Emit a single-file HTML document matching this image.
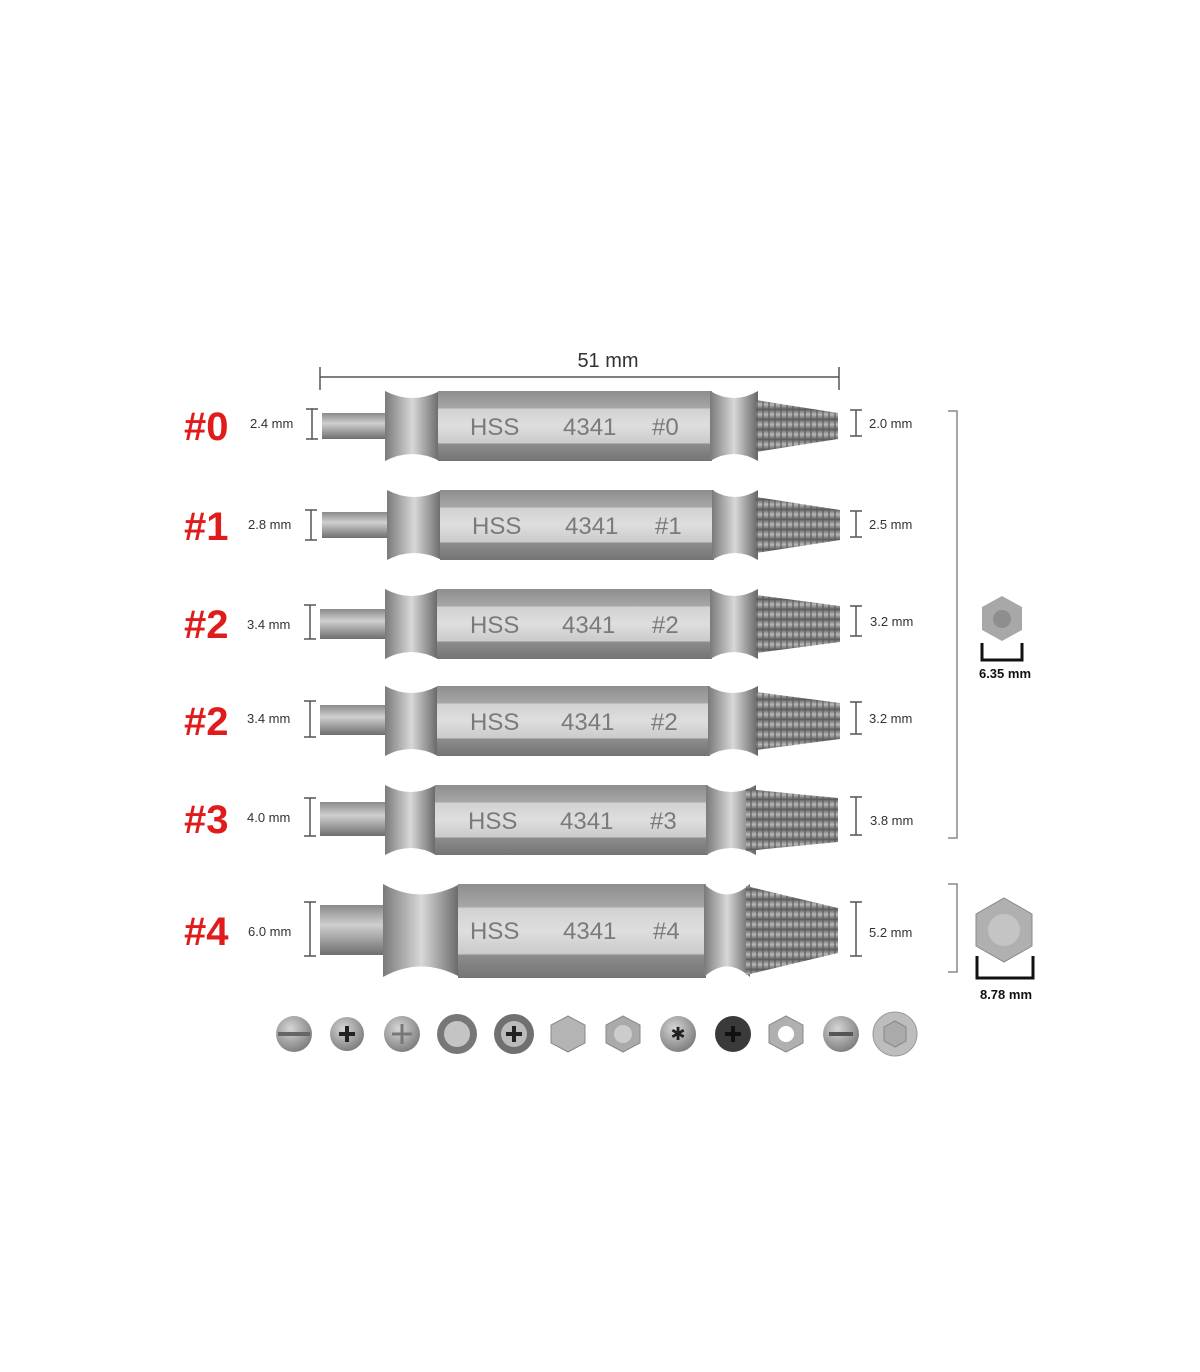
<!DOCTYPE html>
<html><head><meta charset="utf-8"><style>
html,body{margin:0;padding:0;background:#fff;}
svg{display:block;font-family:"Liberation Sans",sans-serif;}
</style></head><body>
<svg width="1200" height="1372" viewBox="0 0 1200 1372" xmlns="http://www.w3.org/2000/svg">
<defs>
<linearGradient id="body" x1="0" y1="0" x2="0" y2="1">
<stop offset="0" stop-color="#8e8e8e"/><stop offset="0.24" stop-color="#a6a6a6"/>
<stop offset="0.26" stop-color="#d2d2d2"/><stop offset="0.5" stop-color="#dedede"/>
<stop offset="0.74" stop-color="#cbcbcb"/><stop offset="0.76" stop-color="#8c8c8c"/>
<stop offset="1" stop-color="#747474"/></linearGradient>
<linearGradient id="col" x1="0" y1="0" x2="1" y2="0">
<stop offset="0" stop-color="#7a7a7a"/><stop offset="0.5" stop-color="#d8d8d8"/><stop offset="1" stop-color="#666"/></linearGradient>
<linearGradient id="tip" x1="0" y1="0" x2="0" y2="1">
<stop offset="0" stop-color="#8a8a8a"/><stop offset="0.4" stop-color="#cfcfcf"/><stop offset="1" stop-color="#6e6e6e"/></linearGradient>
<linearGradient id="tap" x1="0" y1="0" x2="0" y2="1">
<stop offset="0" stop-color="#6a6a6a"/><stop offset="0.45" stop-color="#b8b8b8"/><stop offset="1" stop-color="#555"/></linearGradient>
<pattern id="thr" width="6" height="10" patternUnits="userSpaceOnUse"><rect width="6" height="10" fill="url(#tap)"/><rect x="0" width="2" height="10" fill="#5c5c5c" opacity="0.6"/></pattern>
<radialGradient id="scr" cx="0.4" cy="0.35" r="0.7"><stop offset="0" stop-color="#d6d6d6"/><stop offset="1" stop-color="#7a7a7a"/></radialGradient>
</defs>

<!-- 51 mm dimension -->
<line x1="320" y1="377" x2="839" y2="377" stroke="#555" stroke-width="1.5"/>
<line x1="320" y1="367" x2="320" y2="390" stroke="#555" stroke-width="1.5"/>
<line x1="839" y1="367" x2="839" y2="390" stroke="#555" stroke-width="1.5"/>
<text x="608" y="367" font-size="20" text-anchor="middle" fill="#333">51 mm</text>

<!-- Bits -->
<g id="bits">
<!-- generic per row -->
</g>
<g font-size="24" fill="#7a7a7a">
<!-- row 0 -->
<rect x="322" y="413" width="66" height="26" fill="url(#tip)"/>
<path d="M385,391 Q412,405 440,391 L440,461 Q412,447 385,461 Z" fill="url(#col)"/>
<rect x="438" y="391" width="274" height="70" fill="url(#body)"/>
<path d="M710,391 Q734,405 758,391 L758,461 Q734,447 710,461 Z" fill="url(#col)"/>
<polygon points="756,400 838,413 838,439 756,452" fill="url(#thr)"/>
<text x="470" y="435">HSS</text><text x="563" y="435">4341</text><text x="652" y="435">#0</text>
<!-- row 1 -->
<rect x="322" y="512" width="66" height="26" fill="url(#tip)"/>
<path d="M387,490 Q414,504 442,490 L442,560 Q414,546 387,560 Z" fill="url(#col)"/>
<rect x="440" y="490" width="274" height="70" fill="url(#body)"/>
<path d="M712,490 Q735,504 758,490 L758,560 Q735,546 712,560 Z" fill="url(#col)"/>
<polygon points="756,497 840,510 840,540 756,553" fill="url(#thr)"/>
<text x="472" y="534">HSS</text><text x="565" y="534">4341</text><text x="655" y="534">#1</text>
<!-- row 2 -->
<rect x="320" y="609" width="66" height="30" fill="url(#tip)"/>
<path d="M385,589 Q411,603 438,589 L438,659 Q411,645 385,659 Z" fill="url(#col)"/>
<rect x="437" y="589" width="275" height="70" fill="url(#body)"/>
<path d="M710,589 Q734,603 758,589 L758,659 Q734,645 710,659 Z" fill="url(#col)"/>
<polygon points="756,595 840,606 840,642 756,653" fill="url(#thr)"/>
<text x="470" y="633">HSS</text><text x="562" y="633">4341</text><text x="652" y="633">#2</text>
<!-- row 3 -->
<rect x="320" y="705" width="66" height="30" fill="url(#tip)"/>
<path d="M385,686 Q411,700 438,686 L438,756 Q411,742 385,756 Z" fill="url(#col)"/>
<rect x="437" y="686" width="273" height="70" fill="url(#body)"/>
<path d="M708,686 Q733,700 758,686 L758,756 Q733,742 708,756 Z" fill="url(#col)"/>
<polygon points="756,692 840,703 840,739 756,750" fill="url(#thr)"/>
<text x="470" y="730">HSS</text><text x="561" y="730">4341</text><text x="651" y="730">#2</text>
<!-- row 4 (#3) -->
<rect x="320" y="802" width="66" height="34" fill="url(#tip)"/>
<path d="M385,785 Q411,799 436,785 L436,855 Q411,841 385,855 Z" fill="url(#col)"/>
<rect x="435" y="785" width="273" height="70" fill="url(#body)"/>
<path d="M706,785 Q731,799 756,785 L756,855 Q731,841 706,855 Z" fill="url(#col)"/>
<polygon points="746,789 838,798 838,842 746,851" fill="url(#thr)"/>
<text x="468" y="829">HSS</text><text x="560" y="829">4341</text><text x="650" y="829">#3</text>
<!-- row 5 (#4) -->
<rect x="320" y="905" width="66" height="50" fill="url(#tip)"/>
<path d="M383,884 Q421,905 460,884 L460,977 Q421,956 383,977 Z" fill="url(#col)"/>
<rect x="458" y="884" width="248" height="94" fill="url(#body)"/>
<path d="M704,884 Q727,905 750,884 L750,977 Q727,956 704,977 Z" fill="url(#col)"/>
<polygon points="746,886 838,908 838,953 746,975" fill="url(#thr)"/>
<text x="470" y="939">HSS</text><text x="563" y="939">4341</text><text x="653" y="939">#4</text>
</g>

<!-- red labels -->
<g font-size="40" font-weight="bold" fill="#e01b1b">
<text x="184" y="440">#0</text><text x="184" y="540">#1</text>
<text x="184" y="638">#2</text><text x="184" y="735">#2</text>
<text x="184" y="833">#3</text><text x="184" y="945">#4</text>
</g>
<!-- left sizes -->
<g font-size="13" fill="#333">
<text x="250" y="428">2.4 mm</text><text x="248" y="529">2.8 mm</text>
<text x="247" y="629">3.4 mm</text><text x="247" y="723">3.4 mm</text>
<text x="247" y="822">4.0 mm</text><text x="248" y="936">6.0 mm</text>
<text x="869" y="428">2.0 mm</text><text x="869" y="529">2.5 mm</text>
<text x="870" y="626">3.2 mm</text><text x="869" y="723">3.2 mm</text>
<text x="870" y="825">3.8 mm</text><text x="869" y="937">5.2 mm</text>
</g>
<g stroke="#555" stroke-width="1.5" fill="none">
<path d="M306,409h12M312,409v30M306,439h12"/>
<path d="M305,510h12M311,510v30M305,540h12"/>
<path d="M304,605h12M310,605v34M304,639h12"/>
<path d="M304,701h12M310,701v36M304,737h12"/>
<path d="M304,798h12M310,798v38M304,836h12"/>
<path d="M304,902h12M310,902v54M304,956h12"/>
<path d="M850,410h12M856,410v26M850,436h12"/>
<path d="M850,511h12M856,511v26M850,537h12"/>
<path d="M850,606h12M856,606v30M850,636h12"/>
<path d="M850,702h12M856,702v32M850,734h12"/>
<path d="M850,797h12M856,797v38M850,835h12"/>
<path d="M850,902h12M856,902v54M850,956h12"/>
<path d="M948,411h9v427h-9" stroke="#888"/>
<path d="M948,884h9v88h-9" stroke="#888"/>
</g>
<!-- hex icons -->
<polygon points="1002,596 1022,607 1022,630 1002,641 982,630 982,607" fill="#a8a8a8"/>
<circle cx="1002" cy="619" r="9" fill="#8e8e8e"/>
<path d="M982,643v17h40v-17" stroke="#111" stroke-width="3" fill="none"/>
<text x="1005" y="678" font-size="13" font-weight="bold" text-anchor="middle" fill="#111">6.35 mm</text>
<polygon points="1004,898 1032,914 1032,946 1004,962 976,946 976,914" fill="#b0b0b0" stroke="#888"/>
<circle cx="1004" cy="930" r="16" fill="#c4c4c4"/>
<path d="M977,956v22h56v-22" stroke="#111" stroke-width="3" fill="none"/>
<text x="1006" y="999" font-size="13" font-weight="bold" text-anchor="middle" fill="#111">8.78 mm</text>

<!-- screw heads -->
<g>
<circle cx="294" cy="1034" r="18" fill="url(#scr)"/><rect x="278" y="1032" width="32" height="4" fill="#666"/>
<circle cx="347" cy="1034" r="17" fill="url(#scr)"/><path d="M339,1034h16M347,1026v16" stroke="#222" stroke-width="4"/>
<circle cx="402" cy="1034" r="18" fill="url(#scr)"/><path d="M392,1034h20M402,1024v20" stroke="#777" stroke-width="3"/>
<circle cx="457" cy="1034" r="20" fill="#777"/><circle cx="457" cy="1034" r="13" fill="#c4c4c4"/>
<circle cx="514" cy="1034" r="20" fill="#707070"/><circle cx="514" cy="1034" r="13" fill="#bbb"/><path d="M506,1034h16M514,1026v16" stroke="#222" stroke-width="4"/>
<polygon points="568,1016 585,1025 585,1043 568,1052 551,1043 551,1025" fill="#b4b4b4" stroke="#888"/>
<polygon points="623,1016 640,1025 640,1043 623,1052 606,1043 606,1025" fill="#aaa" stroke="#888"/><circle cx="623" cy="1034" r="9" fill="#ccc"/>
<circle cx="678" cy="1034" r="18" fill="url(#scr)"/><text x="678" y="1040" font-size="18" text-anchor="middle" fill="#222">✱</text>
<circle cx="733" cy="1034" r="18" fill="#3a3a3a"/><path d="M725,1034h16M733,1026v16" stroke="#111" stroke-width="4"/>
<polygon points="786,1016 803,1025 803,1043 786,1052 769,1043 769,1025" fill="#b0b0b0" stroke="#888"/><circle cx="786" cy="1034" r="8" fill="#fff"/>
<circle cx="841" cy="1034" r="18" fill="url(#scr)"/><rect x="829" y="1032" width="24" height="4" fill="#555"/>
<circle cx="895" cy="1034" r="22" fill="#bdbdbd" stroke="#999"/><polygon points="895,1021 906,1027 906,1041 895,1047 884,1041 884,1027" fill="#aaa" stroke="#888"/>
</g>
</svg>
</body></html>
